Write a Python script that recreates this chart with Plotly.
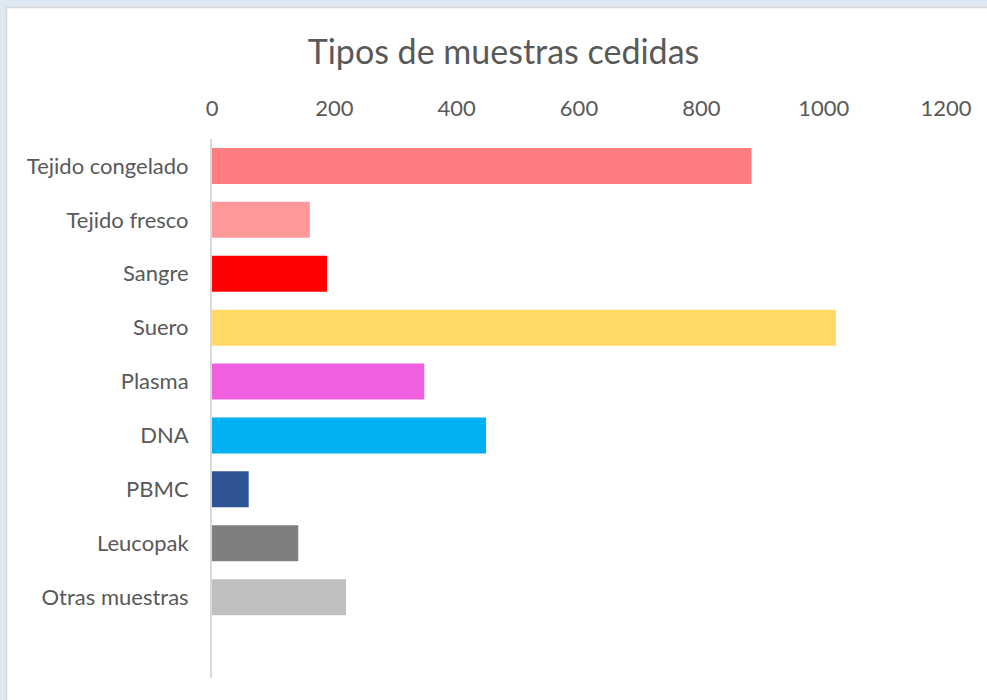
import plotly.graph_objects as go

categories = ["Tejido congelado", "Tejido fresco", "Sangre", "Suero", "Plasma",
              "DNA", "PBMC", "Leucopak", "Otras muestras"]
values = [882, 160, 188, 1020, 347, 448, 60, 141, 219]
colors = ["#FF7C80", "#FF9999", "#FF0000", "#FFD966", "#EF5FDF",
          "#00B0F0", "#2F5597", "#7F7F7F", "#BFBFBF"]
x_ticks = [0, 200, 400, 600, 800, 1000, 1200]

W, H = 987, 700
L, R, T, B = 212, 41, 139, 22
pw, ph = W - L - R, H - T - B

fig = go.Figure(go.Bar(
    x=values, y=categories, orientation="h",
    marker=dict(color=colors, line=dict(width=0)),
    width=0.667, hoverinfo="x+y",
))

def px_x(p):
    return (p - L) / pw

def px_y(p):
    return 1 - (p - T) / ph

shapes = [
    # light blue frame, top and left
    dict(type="rect", xref="paper", yref="paper", x0=px_x(0), x1=px_x(W), y0=px_y(7), y1=px_y(0),
         fillcolor="#DEE8F4", line=dict(width=0), layer="below"),
    dict(type="rect", xref="paper", yref="paper", x0=px_x(0), x1=px_x(6), y0=px_y(H), y1=px_y(0),
         fillcolor="#DEE8F4", line=dict(width=0), layer="below"),
    dict(type="line", xref="paper", yref="paper", x0=px_x(6), x1=px_x(W), y0=px_y(7.5), y1=px_y(7.5),
         line=dict(color="#D6D6D6", width=1.5)),
    dict(type="line", xref="paper", yref="paper", x0=px_x(6.5), x1=px_x(6.5), y0=px_y(H), y1=px_y(7),
         line=dict(color="#D6D6D6", width=1.5)),
]

fig.update_layout(
    width=W, height=H,
    margin=dict(l=L, r=R, t=T, b=B, pad=0),
    paper_bgcolor="white", plot_bgcolor="white",
    font=dict(family="Lato, Carlito, Calibri, sans-serif", color="#595959", size=22),
    title=dict(text="Tipos de muestras cedidas", x=503.5 / W, xref="container", xanchor="center",
               y=1 - 52 / H, yanchor="middle", yref="container",
               font=dict(size=34, color="#595959")),
    showlegend=False,
    bargap=0.333,
    shapes=shapes,
    xaxis=dict(side="top", range=[0, 1200], tickvals=x_ticks, ticktext=[str(v) for v in x_ticks],
               showgrid=False, zeroline=False, showline=False, ticks="",
               ticklabelstandoff=18, tickfont=dict(size=22, color="#595959"), fixedrange=True),
    yaxis=dict(type="category", categoryorder="array", categoryarray=categories,
               range=[9.5, -0.5], showgrid=False, zeroline=False,
               showline=True, linecolor="#D9D9D9", linewidth=2, ticks="",
               ticklabelstandoff=17, tickfont=dict(size=22, color="#595959"), fixedrange=True),
)

fig.write_html("out.html", config={"displayModeBar": False},
               post_script="document.body.style.margin='0px';document.body.style.overflow='hidden';")
